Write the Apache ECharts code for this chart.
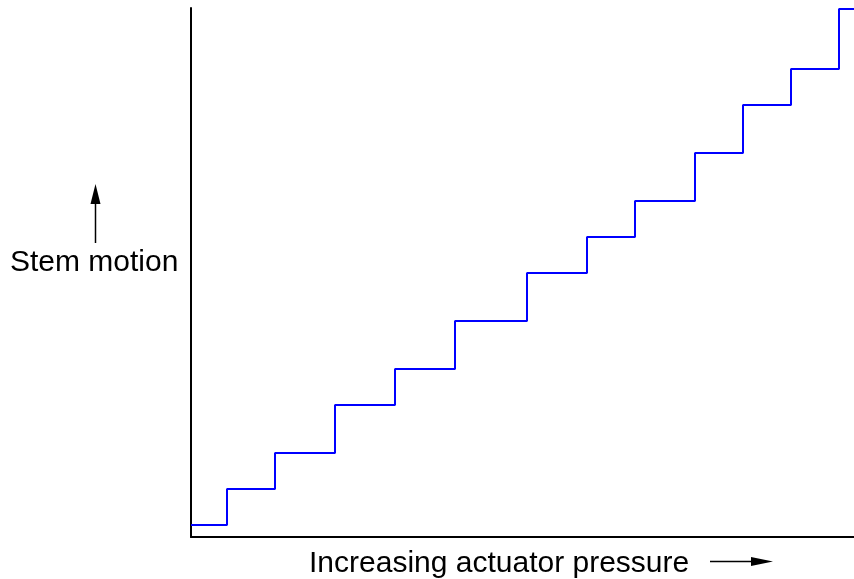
<!DOCTYPE html>
<html>
<head>
<meta charset="utf-8">
<script src="https://cdn.jsdelivr.net/npm/echarts@6/dist/echarts.min.js"></script>
<style>
  html, body { margin: 0; padding: 0; background: #fff; }
  #chart { width: 854px; height: 579px; }
</style>
</head>
<body>
<div id="chart"></div>
<script>
// pressure (x) where each step ends, and stem position (y) at each step
const pressure = [0, 3, 7, 12, 17, 22, 28, 33, 37, 42, 46, 50, 54, 55.25];
const stem = [1, 4, 7, 11, 14, 18, 22, 25, 28, 32, 36, 39, 44, 44];

const yLabel = "Stem motion";
const xLabel = "Increasing actuator pressure";

const chart = echarts.init(document.getElementById("chart"));

const points = pressure.map((p, i) => [p, stem[i]]);
const font = "'Liberation Sans', Arial, sans-serif";

chart.setOption({
  animation: false,
  grid: { left: 191, right: 0, top: 8, bottom: 42 },
  xAxis: {
    type: "value",
    min: 0,
    max: 55.25,
    axisLine: { show: true, onZero: false, lineStyle: { color: "#000", width: 2 } },
    axisTick: { show: false },
    axisLabel: { show: false },
    splitLine: { show: false },
  },
  yAxis: {
    type: "value",
    min: 0,
    max: 44.08,
    axisLine: { show: true, onZero: false, lineStyle: { color: "#000", width: 2 } },
    axisTick: { show: false },
    axisLabel: { show: false },
    splitLine: { show: false },
  },
  series: [
    {
      type: "line",
      step: "end",
      data: points,
      showSymbol: false,
      lineStyle: { color: "#0000ff", width: 2 },
    },
  ],
  graphic: [
    // stem motion label + up arrow
    {
      type: "text",
      left: 10,
      top: 248,
      style: { text: yLabel, font: "30px " + font, fill: "#000" },
    },
    {
      type: "line",
      shape: { x1: 95.5, y1: 243, x2: 95.5, y2: 200 },
      style: { stroke: "#000", lineWidth: 1.5 },
    },
    {
      type: "polygon",
      shape: { points: [[95.5, 184], [90.5, 204], [100.5, 204]] },
      style: { fill: "#000" },
    },
    // pressure label + right arrow
    {
      type: "text",
      left: 309,
      top: 549,
      style: { text: xLabel, font: "30px " + font, fill: "#000" },
    },
    {
      type: "line",
      shape: { x1: 710, y1: 561.5, x2: 756, y2: 561.5 },
      style: { stroke: "#000", lineWidth: 1.5 },
    },
    {
      type: "polygon",
      shape: { points: [[773, 561.5], [751, 557], [751, 566]] },
      style: { fill: "#000" },
    },
  ],
});
</script>
</body>
</html>
